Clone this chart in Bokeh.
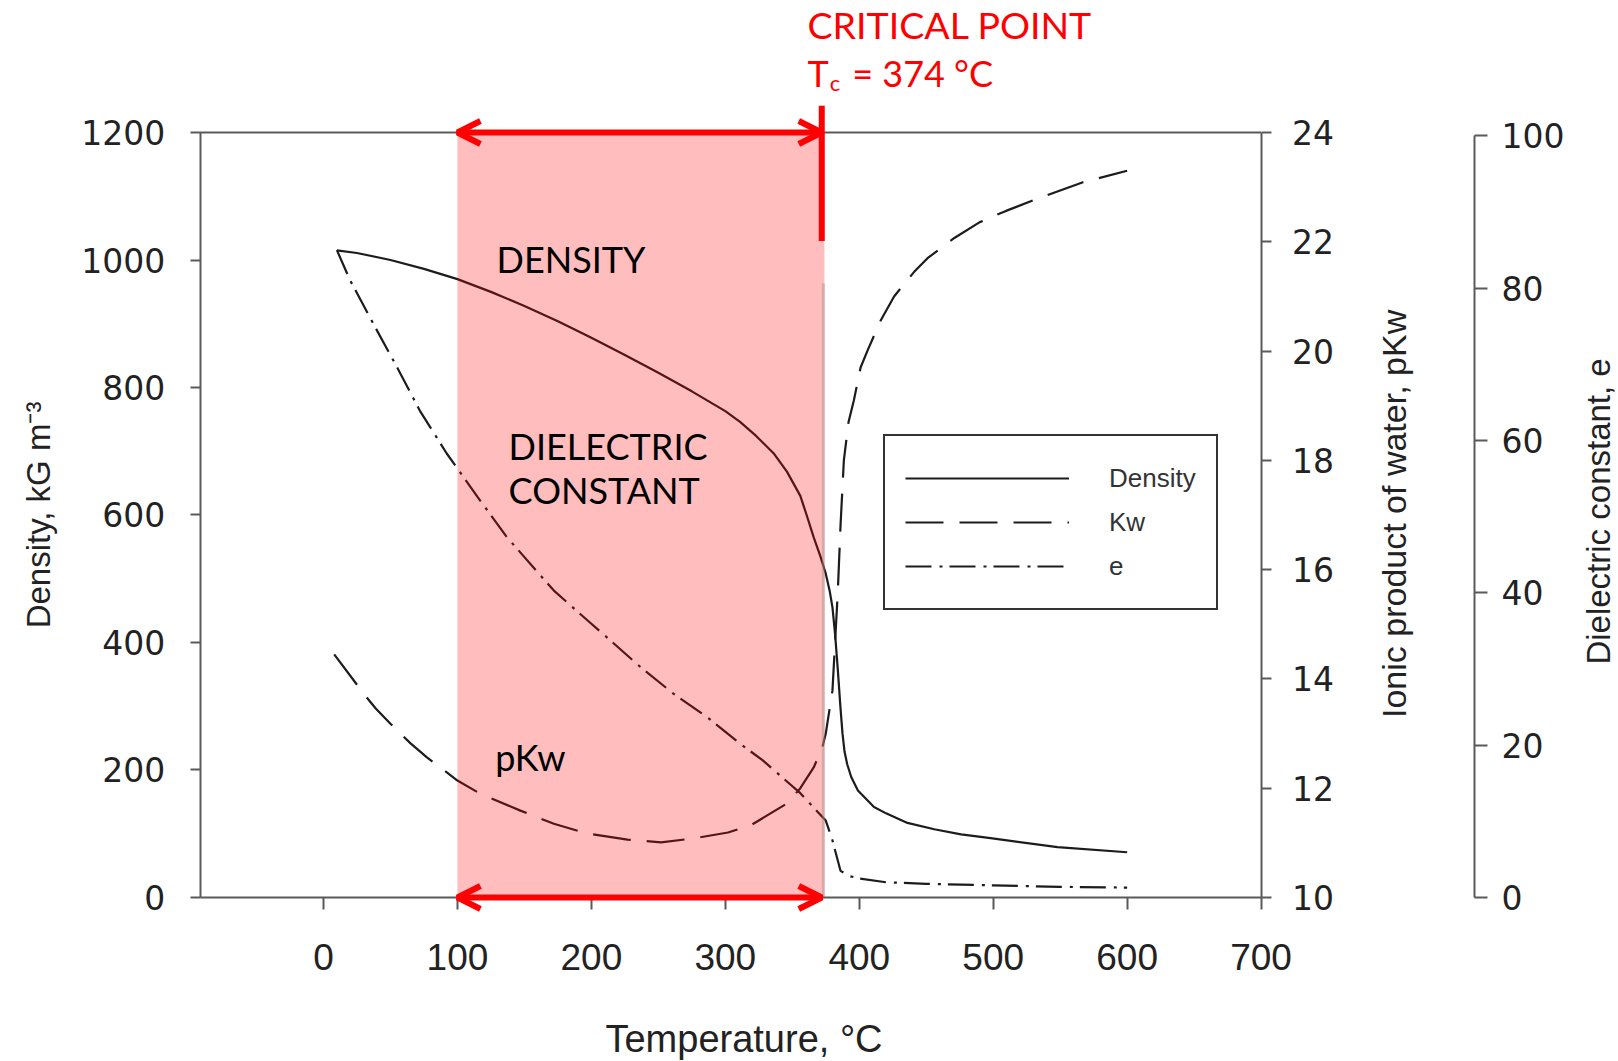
import math
from bokeh.plotting import figure
from bokeh.models import (Range1d, LinearAxis, FixedTicker, Legend, LegendItem,
                          Arrow, OpenHead)
from bokeh.core.properties import value
from bokeh.embed import file_html
from bokeh.resources import INLINE

# ---------------- data ----------------
temp_density = [10, 25, 50, 75, 100, 125, 150, 175, 200, 225, 250, 275, 300,
                311, 323, 336, 346, 356, 361, 366, 371, 375, 378, 380, 382, 384,
                386, 387.5, 389, 391, 394, 399, 411, 420, 436, 456, 476, 498,
                548, 600]
density = [1015, 1011, 1000, 986, 970, 950, 928, 904, 878, 851, 823, 794, 763,
           746, 724, 697, 668, 630, 598, 565, 535, 508, 480, 455, 412, 357,
           297, 257, 229, 209, 189, 168, 142, 132, 117, 107, 99, 93,
           79, 71]

temp_pkw = [8, 30, 39, 50, 65, 77, 100, 117, 147, 172, 197, 227, 252, 276, 302,
            319, 346, 356, 366, 372.5, 375, 380, 382, 384, 386, 388.5, 392,
            396, 401, 406, 416, 426, 441, 451, 471, 490, 510, 530, 550, 567,
            600]
pkw = [14.45, 13.73, 13.46, 13.18, 12.82, 12.57, 12.14, 11.9, 11.59, 11.35,
       11.17, 11.06, 11.01, 11.08, 11.19, 11.32, 11.72, 12.0, 12.38, 12.75,
       13.0, 13.79, 14.7, 15.6, 16.8, 18.0, 18.7, 19.1, 19.7, 20.0, 20.56,
       21.0, 21.45, 21.7, 22.07, 22.36, 22.57, 22.76, 22.94, 23.09, 23.3]

temp_eps = [10, 20, 37, 55, 72, 92, 115, 137, 172, 197, 212, 237, 261, 287,
            311, 328, 356, 375, 380, 386, 393, 400, 420, 450, 500, 550, 600]
dielectric = [85.0, 81.0, 75.4, 69.6, 63.9, 58.3, 52.6, 47.3, 40.3, 36.4, 34.1,
              30.2, 26.8, 23.6, 20.2, 18.0, 13.7, 10.1, 7.5, 3.5, 2.8, 2.5,
              2.0, 1.8, 1.6, 1.4, 1.3]

x_ticks = [0, 100, 200, 300, 400, 500, 600, 700]
density_ticks = [0, 200, 400, 600, 800, 1000, 1200]
pkw_ticks = [10, 12, 14, 16, 18, 20, 22, 24]
eps_ticks = [0, 20, 40, 60, 80, 100]

series_names = ["Density", "Kw", "e"]

T_LOW = 100      # start of highlighted region
T_CRIT = 374     # critical temperature

# ---------------- figure (frame = whole canvas) ----------------
AX = "#5a5a5a"
TXT = "#222222"
X_MIN, X_MAX = -92, 700          # extent of the chart box in temperature
X_EAXIS = 859.3                  # where the dielectric axis stands

p = figure(width=1616, height=1060,
           x_range=Range1d(-241.15, 965.36), y_range=Range1d(-255.69, 1407.06),
           output_backend="svg", toolbar_location=None,
           x_axis_location=None, y_axis_location=None,
           min_border_left=0, min_border_right=0,
           min_border_top=0, min_border_bottom=0)
p.extra_y_ranges = {"pkw": Range1d(7.01699, 26.4157),
                    "eps": Range1d(-21.4024, 117.779)}
p.grid.visible = False
p.outline_line_color = None
p.background_fill_color = "white"
p.border_fill_color = "white"


def style_axis(ax, tick_font, tick_size, title_size="33px"):
    ax.axis_line_color = AX
    ax.axis_line_width = 2
    ax.major_tick_line_color = AX
    ax.major_tick_line_width = 2
    ax.major_tick_in = 0
    ax.minor_tick_line_color = None
    ax.major_label_text_font = tick_font
    ax.major_label_text_font_size = tick_size
    ax.major_label_text_color = TXT
    ax.axis_label_text_font = "Liberation Sans"
    ax.axis_label_text_font_style = "normal"
    ax.axis_label_text_font_size = title_size
    ax.axis_label_text_color = TXT


# left density axis
ya = LinearAxis(fixed_location=X_MIN, ticker=FixedTicker(ticks=density_ticks),
                bounds=(0, 1200), axis_label="Density, kG m\u207b\u00b3")
style_axis(ya, "DejaVu Sans", "33px")
ya.major_tick_out = 10
ya.major_label_standoff = 25
ya.axis_label_standoff = 22
p.add_layout(ya, "left")

# bottom temperature axis, pinned to density = 0
xa = LinearAxis(fixed_location=0, ticker=FixedTicker(ticks=x_ticks),
                bounds=(X_MIN, X_MAX))
style_axis(xa, "Liberation Sans", "37px")
xa.major_tick_out = 12
xa.major_label_standoff = 35
p.add_layout(xa, "below")

# pKw axis pinned at T = 700
ka = LinearAxis(y_range_name="pkw", fixed_location=X_MAX,
                ticker=FixedTicker(ticks=pkw_ticks), bounds=(10, 24))
style_axis(ka, "DejaVu Sans", "33px")
ka.major_tick_out = 10
ka.major_label_standoff = 21
p.add_layout(ka, "right")

# dielectric axis
ea = LinearAxis(y_range_name="eps", fixed_location=X_EAXIS,
                ticker=FixedTicker(ticks=eps_ticks), bounds=(0, 100))
style_axis(ea, "DejaVu Sans", "33px")
ea.major_tick_out = 13
ea.major_label_standoff = 14
p.add_layout(ea, "right")

# axis titles drawn as text
TITLE = value("Liberation Sans")
p.text(x=[313.95], y=[-221.2], text=["Temperature, \u00b0C"], text_font=TITLE,
       text_font_size="38px", text_color=TXT, text_align="center",
       text_baseline="middle")
p.text(x=[799.2], y=[601.7], text=["Ionic product of water, pKw"],
       text_font=TITLE, text_font_size="34px", text_color=TXT,
       text_align="center", text_baseline="middle", angle=math.pi / 2)
p.text(x=[951.8], y=[605.6], text=["Dielectric constant, e"],
       text_font=TITLE, text_font_size="33px", text_color=TXT,
       text_align="center", text_baseline="middle", angle=math.pi / 2)

# top border of the box
p.segment(x0=[X_MIN], y0=[1200], x1=[X_MAX], y1=[1200], line_color=AX,
          line_width=2)

# ---------------- curves ----------------
LC = "#1c1c1c"
r_d = p.line(temp_density, density, line_color=LC, line_width=2.2)
r_k = p.line(temp_pkw, pkw, y_range_name="pkw", line_color=LC, line_width=2.2,
             line_dash="38 16")
r_e = p.line(temp_eps, dielectric, y_range_name="eps", line_color=LC,
             line_width=2.2, line_dash="26 8 3 7")

# ---------------- highlighted region ----------------
p.quad(left=[T_LOW], right=[T_CRIT], bottom=[0], top=[1200],
       fill_color="#ff0000", fill_alpha=0.26, line_color=None)
p.segment(x0=[T_CRIT - 0.8], y0=[0], x1=[T_CRIT - 0.8], y1=[963],
          line_color="#b08a8a", line_alpha=0.45, line_width=3)

RED = "#ff0000"
for yy in (1200, 0):
    p.add_layout(Arrow(x_start=T_LOW, y_start=yy, x_end=T_CRIT - 2, y_end=yy,
                       line_color=RED, line_width=6,
                       start=OpenHead(size=23, line_color=RED, line_width=6),
                       end=OpenHead(size=23, line_color=RED, line_width=6)))
p.segment(x0=[T_CRIT - 2], y0=[1030], x1=[T_CRIT - 2], y1=[1242],
          line_color=RED, line_width=6)

# ---------------- annotations ----------------
ANN = value("Lato")
p.text(x=[129.2], y=[1001], text=["DENSITY"], text_font=ANN,
       text_font_size="36px", text_color="black", text_baseline="alphabetic")
p.text(x=[138.2, 138.2], y=[708.5, 639], text=["DIELECTRIC", "CONSTANT"],
       text_font=ANN, text_font_size="36px", text_color="black",
       text_baseline="alphabetic")
p.text(x=[128.2], y=[220], text=["pKw"], text_font=ANN,
       text_font_size="36px", text_color="black", text_baseline="alphabetic")
p.text(x=[361.4], y=[1369], text=["CRITICAL POINT"], text_font=ANN,
       text_font_size="37.5px", text_color=RED, text_baseline="alphabetic")
p.text(x=[361.4], y=[1294], text=["T"], text_font=ANN,
       text_font_size="36px", text_color=RED, text_baseline="alphabetic")
p.text(x=[378.0], y=[1279], text=["c"], text_font=ANN,
       text_font_size="22px", text_color=RED, text_baseline="alphabetic")
p.text(x=[394.7], y=[1294], text=["= 374 \u00b0C"], text_font=ANN,
       text_font_size="36px", text_color=RED, text_baseline="alphabetic")

# ---------------- legend ----------------
legend = Legend(items=[LegendItem(label=series_names[0], renderers=[r_d]),
                       LegendItem(label=series_names[1], renderers=[r_k]),
                       LegendItem(label=series_names[2], renderers=[r_e])],
                location=(883, 450), orientation="vertical",
                glyph_width=164, glyph_height=44, spacing=0, padding=20,
                label_standoff=40, margin=0,
                label_text_font="Liberation Sans", label_text_font_size="26px",
                label_text_color="#333333",
                border_line_color="#333333", border_line_width=2,
                border_line_alpha=1.0,
                background_fill_color="white", background_fill_alpha=1.0)
p.add_layout(legend)

open("out.html", "w").write(file_html(p, INLINE))
